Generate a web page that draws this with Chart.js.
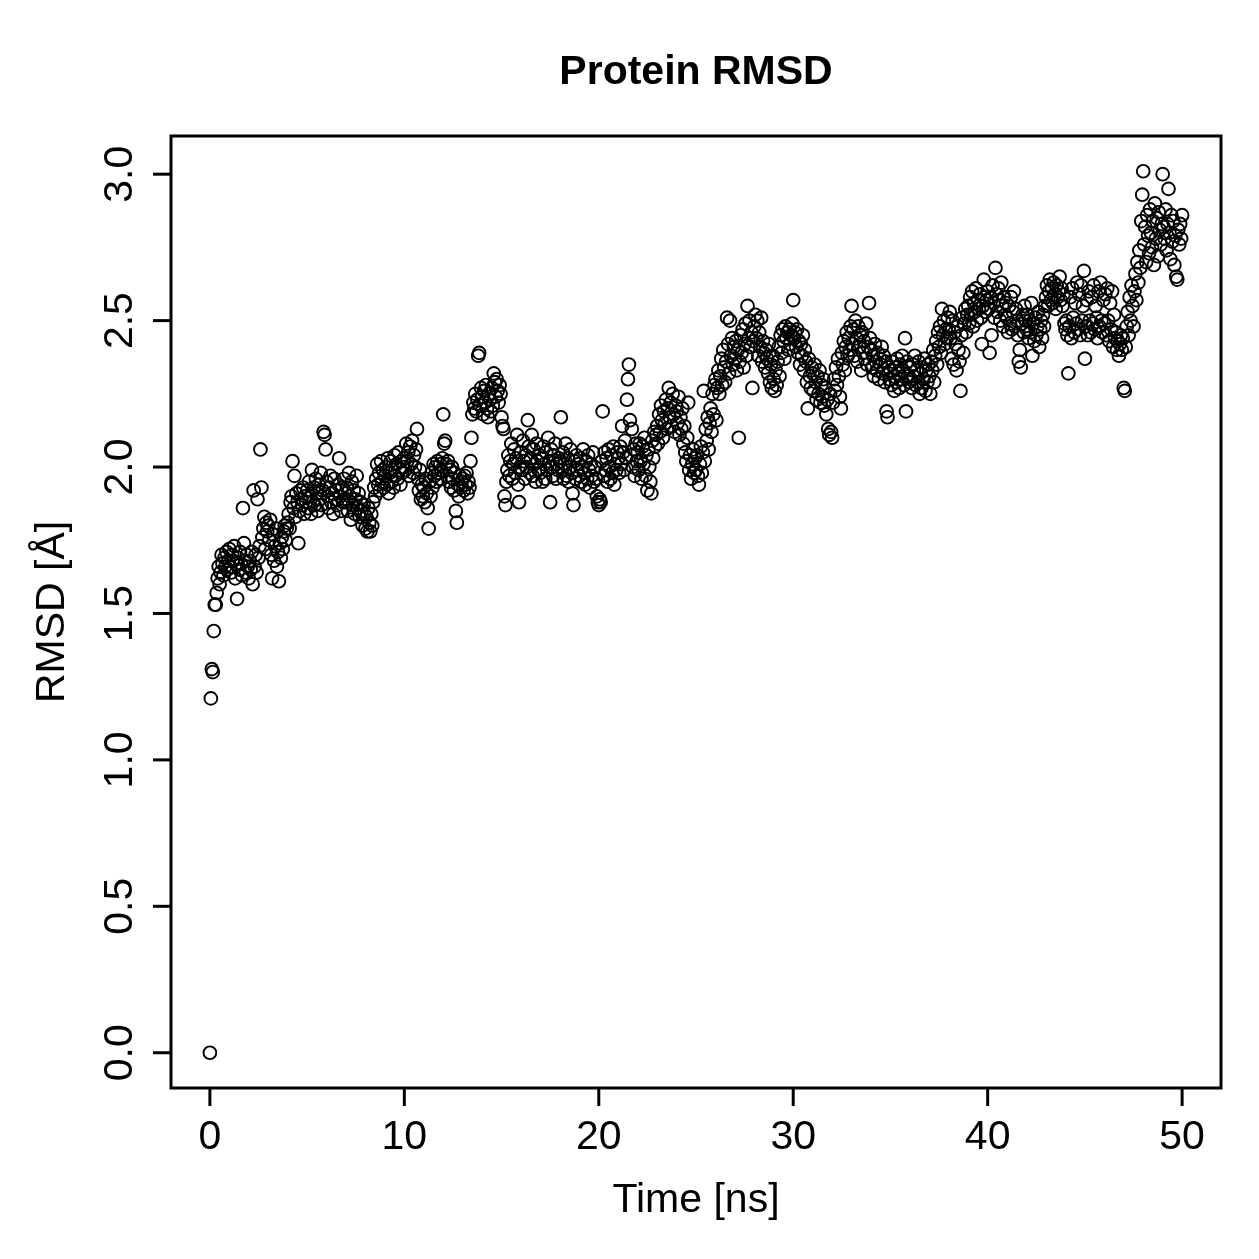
<!DOCTYPE html>
<html><head><meta charset="utf-8">
<script src="https://cdn.jsdelivr.net/npm/chart.js@4.4.1/dist/chart.umd.min.js"></script>
<style>html,body{margin:0;padding:0;background:#fff;} #wrap{width:1259px;height:1259px;position:relative;}</style>
</head><body><div id="wrap"><canvas id="c" width="1259" height="1259"></canvas></div>
<script>
const chartTitle = "Protein RMSD";
const xAxisTitle = "Time [ns]";
const yAxisTitle = "RMSD [Å]";
const timeStep = 0.05;
const xTickValues = [0, 10, 20, 30, 40, 50];
const xTickLabels = ["0", "10", "20", "30", "40", "50"];
const yTickValues = [0, 0.5, 1, 1.5, 2, 2.5, 3];
const yTickLabels = ["0.0", "0.5", "1.0", "1.5", "2.0", "2.5", "3.0"];
const rmsd = [
0.00,1.21,1.31,1.30,1.44,1.53,1.53,1.57,1.62,1.66,1.60,1.64,1.70,1.67,1.63,1.69,1.66,1.71,1.65,1.68,
1.72,1.66,1.64,1.70,1.68,1.73,1.62,1.67,1.55,1.69,1.65,1.71,1.67,1.63,1.86,1.74,1.68,1.64,1.70,1.66,
1.62,1.68,1.65,1.71,1.60,1.92,1.66,1.70,1.64,1.89,1.69,1.73,2.06,1.93,1.76,1.79,1.83,1.72,1.81,1.78,
1.80,1.75,1.82,1.70,1.62,1.77,1.68,1.73,1.79,1.66,1.71,1.61,1.74,1.69,1.76,1.72,1.78,1.80,1.75,1.79,
1.81,1.84,1.79,1.88,1.90,2.02,1.86,1.97,1.83,1.91,1.88,1.74,1.85,1.92,1.89,1.87,1.93,1.84,1.90,1.88,
1.92,1.86,1.95,1.90,1.84,1.99,1.88,1.93,1.87,1.96,1.91,1.85,1.94,1.89,1.98,1.87,1.92,2.12,2.11,2.06,
1.95,1.90,1.86,1.93,1.97,1.88,1.91,1.84,1.96,1.89,1.92,1.87,1.94,2.03,1.90,1.85,1.93,1.88,1.96,1.91,
1.88,1.93,1.85,1.98,1.90,1.82,1.95,1.87,1.92,1.84,1.89,1.97,1.86,1.91,1.83,1.88,1.85,1.80,1.87,1.84,
1.79,1.83,1.78,1.86,1.81,1.78,1.84,1.80,1.88,1.93,1.90,1.96,2.01,1.94,1.98,1.92,2.02,1.95,1.99,1.93,
1.97,2.00,1.94,2.03,1.91,1.98,2.02,1.95,1.99,1.93,2.04,1.97,2.01,1.96,2.05,1.99,1.94,2.02,1.98,2.00,
2.03,1.99,2.08,2.02,2.05,1.97,2.07,2.01,2.09,1.98,2.04,2.00,2.06,2.13,1.96,1.92,1.99,1.89,1.94,1.90,
1.93,1.88,1.96,1.91,1.86,1.79,1.95,1.90,1.98,1.93,2.01,1.97,2.00,1.95,2.02,1.98,1.96,2.01,1.99,2.03,
2.18,2.08,2.09,2.01,1.97,2.02,1.95,1.99,1.93,2.00,1.96,1.92,1.98,1.85,1.81,1.94,1.90,1.97,1.93,1.95,
1.96,1.92,1.97,1.94,1.98,1.91,1.95,1.93,2.02,2.10,2.18,2.22,2.20,2.25,2.19,2.23,2.38,2.39,2.21,2.27,
2.24,2.18,2.26,2.22,2.28,2.20,2.17,2.25,2.23,2.19,2.27,2.21,2.32,2.29,2.24,2.30,2.26,2.22,2.28,2.25,
2.17,2.14,2.13,1.90,1.87,1.95,1.99,2.04,1.97,2.02,2.08,1.96,2.01,2.06,1.98,2.03,2.11,1.94,1.88,2.00,
2.05,1.99,2.09,2.02,1.96,2.04,2.00,2.16,2.07,1.98,2.03,2.11,1.97,2.06,2.01,1.95,2.08,2.02,1.99,2.04,
1.98,2.03,1.95,2.07,2.01,1.96,2.05,1.99,2.10,2.02,1.88,2.06,2.00,1.97,2.04,2.08,1.96,2.01,1.99,2.03,
2.02,2.17,1.99,2.05,1.96,2.01,2.08,1.97,2.03,1.95,2.00,2.06,1.98,1.91,1.87,2.02,1.96,2.04,1.99,2.01,
1.97,2.03,1.95,2.00,2.06,1.98,1.94,2.02,1.96,2.04,1.99,1.93,2.01,1.97,2.05,1.95,2.00,1.96,1.90,1.88,
1.87,1.89,1.88,2.02,2.19,1.97,2.05,1.99,2.03,1.95,2.06,2.00,1.96,2.04,1.98,2.07,1.94,2.01,1.99,2.05,
2.03,1.98,2.07,2.01,2.14,2.05,1.99,2.09,2.03,2.23,2.30,2.35,2.16,2.04,2.13,2.00,2.06,1.97,2.08,2.02,
2.05,1.99,2.08,2.02,1.96,2.07,2.01,2.10,1.97,2.04,1.92,2.06,2.00,1.95,1.91,2.09,2.03,2.12,2.07,2.11,
2.14,2.08,2.18,2.12,2.21,2.16,2.10,2.19,2.15,2.23,2.13,2.20,2.27,2.17,2.22,2.14,2.25,2.18,2.12,2.21,
2.19,2.15,2.24,2.11,2.17,2.13,2.20,2.08,2.14,2.05,2.02,2.10,2.22,1.99,2.04,1.96,2.01,2.06,1.98,2.03,
1.99,2.04,1.97,1.94,2.01,2.07,1.98,2.05,2.26,2.02,2.13,2.09,2.17,2.06,2.15,2.20,2.12,2.25,2.18,2.28,
2.30,2.16,2.27,2.33,2.25,2.31,2.37,2.28,2.40,2.34,2.29,2.36,2.51,2.42,2.32,2.50,2.38,2.44,2.35,2.41,
2.37,2.43,2.33,2.40,2.10,2.36,2.45,2.39,2.47,2.34,2.42,2.49,2.38,2.55,2.44,2.50,2.41,2.46,2.27,2.43,
2.48,2.52,2.44,2.50,2.38,2.46,2.41,2.51,2.36,2.43,2.39,2.34,2.40,2.37,2.32,2.42,2.29,2.35,2.27,2.38,
2.30,2.26,2.33,2.28,2.36,2.41,2.31,2.45,2.39,2.47,2.43,2.37,2.48,2.44,2.46,2.40,2.47,2.42,2.45,2.49,
2.57,2.44,2.46,2.41,2.47,2.39,2.43,2.35,2.42,2.38,2.45,2.33,2.40,2.36,2.29,2.20,2.37,2.31,2.27,2.34,
2.32,2.26,2.35,2.29,2.23,2.31,2.25,2.33,2.22,2.28,2.24,2.30,2.21,2.27,2.18,2.23,2.13,2.11,2.25,2.12,
2.10,2.22,2.30,2.26,2.34,2.28,2.37,2.31,2.24,2.20,2.39,2.35,2.43,2.33,2.41,2.46,2.38,2.44,2.40,2.48,
2.55,2.42,2.47,2.38,2.50,2.44,2.36,2.48,2.41,2.45,2.33,2.46,2.39,2.43,2.37,2.49,2.35,2.41,2.56,2.44,
2.40,2.34,2.38,2.31,2.42,2.36,2.33,2.39,2.30,2.37,2.35,2.41,2.32,2.38,2.29,2.36,2.19,2.17,2.34,2.30,
2.33,2.28,2.36,2.31,2.26,2.34,2.29,2.37,2.32,2.27,2.35,2.30,2.38,2.33,2.28,2.44,2.19,2.36,2.31,2.29,
2.34,2.30,2.27,2.35,2.31,2.38,2.28,2.33,2.29,2.36,2.25,2.32,2.27,2.34,2.30,2.37,2.26,2.33,2.29,2.35,
2.31,2.25,2.36,2.33,2.40,2.29,2.38,2.43,2.35,2.46,2.41,2.48,2.39,2.54,2.45,2.50,2.42,2.47,2.44,2.51,
2.47,2.53,2.44,2.37,2.50,2.35,2.46,2.42,2.33,2.48,2.40,2.36,2.26,2.45,2.51,2.39,2.49,2.54,2.46,2.52,
2.55,2.49,2.58,2.52,2.60,2.48,2.56,2.53,2.61,2.50,2.57,2.54,2.59,2.51,2.42,2.55,2.64,2.58,2.53,2.57,
2.60,2.54,2.39,2.58,2.45,2.62,2.56,2.51,2.68,2.59,2.53,2.61,2.57,2.50,2.63,2.55,2.48,2.58,2.52,2.56,
2.51,2.46,2.55,2.49,2.58,2.47,2.53,2.60,2.48,2.54,2.50,2.45,2.36,2.40,2.34,2.49,2.52,2.46,2.55,2.50,
2.47,2.52,2.44,2.50,2.46,2.56,2.38,2.49,2.43,2.51,2.45,2.48,2.53,2.41,2.47,2.50,2.44,2.52,2.48,2.55,
2.58,2.62,2.55,2.60,2.64,2.57,2.61,2.56,2.63,2.59,2.54,2.62,2.58,2.60,2.65,2.57,2.61,2.55,2.59,2.49,
2.47,2.50,2.45,2.32,2.48,2.58,2.44,2.61,2.51,2.46,2.56,2.49,2.63,2.47,2.59,2.45,2.62,2.50,2.55,2.67,
2.37,2.48,2.57,2.45,2.60,2.50,2.46,2.58,2.49,2.62,2.47,2.55,2.51,2.44,2.60,2.48,2.63,2.50,2.46,2.57,
2.49,2.59,2.45,2.61,2.50,2.43,2.56,2.47,2.60,2.41,2.52,2.44,2.46,2.40,2.43,2.38,2.42,2.45,2.40,2.44,
2.27,2.26,2.41,2.48,2.53,2.45,2.58,2.50,2.62,2.55,2.48,2.60,2.66,2.57,2.70,2.63,2.74,2.68,2.84,2.93,
3.01,2.76,2.82,2.70,2.86,2.79,2.73,2.88,2.80,2.75,2.84,2.69,2.90,2.78,2.85,2.72,2.87,2.81,2.76,2.83,
3.00,2.82,2.78,2.88,2.74,2.83,2.95,2.80,2.71,2.86,2.77,2.84,2.69,2.79,2.65,2.64,2.81,2.76,2.83,2.78,
2.86
];
const timeNs = rmsd.map((v, i) => Math.round(i * timeStep * 100) / 100);

const FONT = '"Liberation Sans", Arial, Helvetica, sans-serif';

const rPlot = {
  id: 'rplot',
  afterDraw(chart) {
    const ctx = chart.ctx, a = chart.chartArea, xs = chart.scales.x, ys = chart.scales.y;
    ctx.save();
    ctx.strokeStyle = '#000';
    ctx.fillStyle = '#000';
    ctx.lineWidth = 3;
    ctx.lineCap = 'butt';
    ctx.strokeRect(a.left, a.top, a.right - a.left, a.bottom - a.top);
    ctx.font = '41px ' + FONT;
    ctx.textAlign = 'center';
    ctx.textBaseline = 'alphabetic';
    xTickValues.forEach((v, i) => {
      const px = xs.getPixelForValue(v);
      ctx.beginPath(); ctx.moveTo(px, a.bottom); ctx.lineTo(px, a.bottom + 18); ctx.stroke();
      ctx.fillText(xTickLabels[i], px, a.bottom + 61);
    });
    yTickValues.forEach((v, i) => {
      const py = ys.getPixelForValue(v);
      ctx.beginPath(); ctx.moveTo(a.left, py); ctx.lineTo(a.left - 18, py); ctx.stroke();
      ctx.save(); ctx.translate(a.left - 39, py); ctx.rotate(-Math.PI / 2);
      ctx.fillText(yTickLabels[i], 0, 0); ctx.restore();
    });
    ctx.fillText(xAxisTitle, (a.left + a.right) / 2, a.bottom + 124);
    ctx.save(); ctx.translate(a.left - 107, (a.top + a.bottom) / 2); ctx.rotate(-Math.PI / 2);
    ctx.fillText(yAxisTitle, 0, 0); ctx.restore();
    ctx.font = 'bold 41px ' + FONT;
    ctx.fillText(chartTitle, (a.left + a.right) / 2, 84);
    ctx.restore();
  }
};

new Chart(document.getElementById('c'), {
  type: 'scatter',
  data: {
    datasets: [{
      label: 'RMSD',
      data: rmsd.map((v, i) => ({ x: timeNs[i], y: v })),
      pointStyle: 'circle',
      pointRadius: 6.4,
      pointHoverRadius: 6.4,
      borderWidth: 1.9,
      borderColor: '#000',
      backgroundColor: 'rgba(0,0,0,0)',
      showLine: false
    }]
  },
  options: {
    responsive: false,
    animation: false,
    devicePixelRatio: 1,
    layout: { padding: { left: 171, right: 38, top: 136, bottom: 171 } },
    plugins: { legend: { display: false }, tooltip: { enabled: false }, title: { display: false } },
    events: [],
    scales: {
      x: { type: 'linear', min: -2, max: 52, display: false },
      y: { type: 'linear', min: -0.1204, max: 3.1304, display: false }
    }
  },
  plugins: [rPlot]
});
</script>
</body></html>
